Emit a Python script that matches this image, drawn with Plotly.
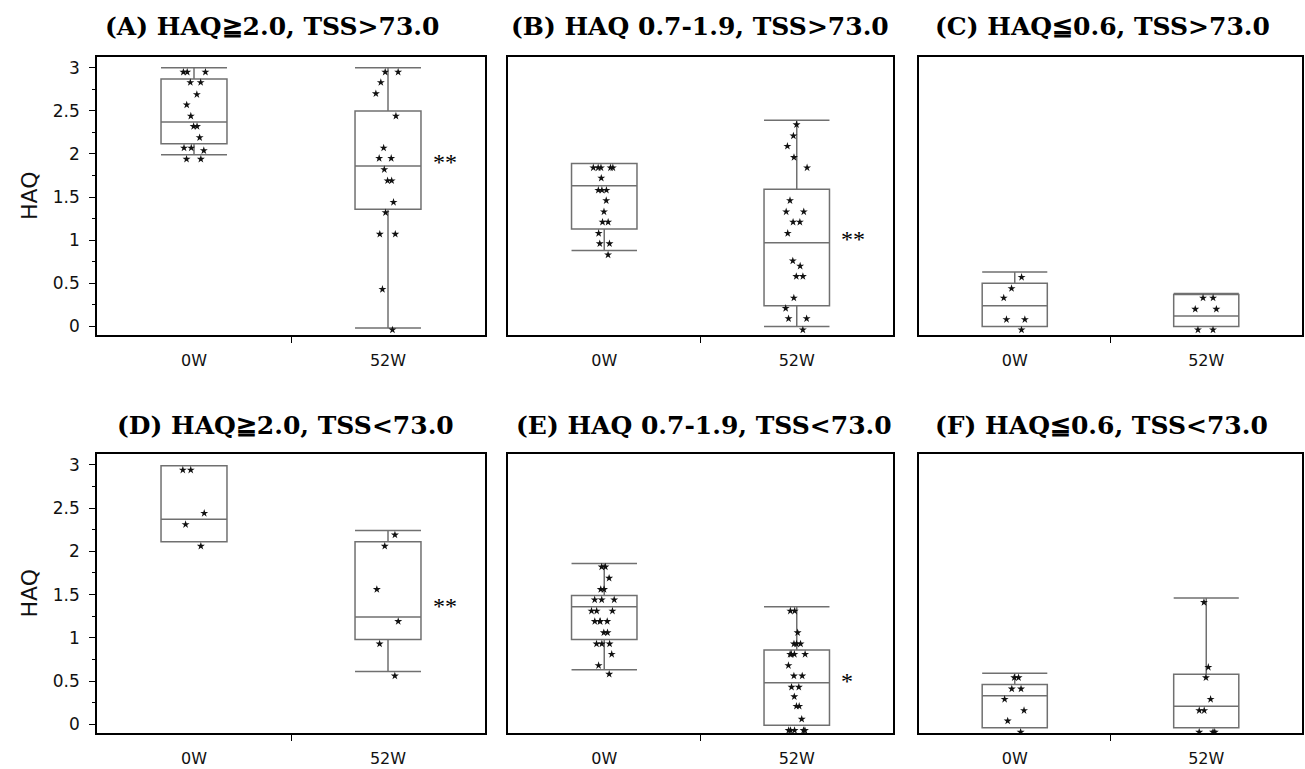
import plotly.graph_objects as go

# ---------------- data ----------------
time_labels = ["0W", "52W"]
panel_titles = [
    "(A) HAQ≧2.0, TSS>73.0",
    "(B) HAQ 0.7-1.9, TSS>73.0",
    "(C) HAQ≦0.6, TSS>73.0",
    "(D) HAQ≧2.0, TSS<73.0",
    "(E) HAQ 0.7-1.9, TSS<73.0",
    "(F) HAQ≦0.6, TSS<73.0",
]
significance = ["**", "**", "", "**", "*", ""]
sig_y = [1.91, 1.01, None, 1.37, 0.50, None]

# individual HAQ points
A_0W = [2.95, 2.95, 2.95, 2.83, 2.83, 2.69, 2.57, 2.44, 2.32, 2.32, 2.19, 2.07, 2.07, 2.04, 1.94, 1.94]
A_52W = [2.95, 2.95, 2.83, 2.70, 2.44, 2.07, 1.95, 1.95, 1.82, 1.69, 1.69, 1.44, 1.32, 1.07, 1.07, 0.43, -0.04]
B_0W = [1.84, 1.84, 1.84, 1.84, 1.84, 1.72, 1.58, 1.58, 1.58, 1.46, 1.33, 1.21, 1.21, 1.08, 0.96, 0.96, 0.83]
B_52W = [2.34, 2.21, 2.09, 1.96, 1.84, 1.46, 1.33, 1.33, 1.21, 1.21, 1.08, 0.76, 0.70, 0.58, 0.58, 0.33, 0.21, 0.09, 0.09, -0.04]
C_0W = [0.57, 0.44, 0.33, 0.08, 0.08, -0.04]
C_52W = [0.33, 0.33, 0.20, 0.20, -0.04, -0.04]
D_0W = [2.94, 2.94, 2.44, 2.31, 2.06]
D_52W = [2.19, 2.06, 1.56, 1.19, 0.93, 0.56]
E_0W = [1.82, 1.82, 1.69, 1.56, 1.56, 1.44, 1.44, 1.44, 1.31, 1.31, 1.31, 1.19, 1.19, 1.19, 1.19,
        1.06, 1.06, 0.93, 0.93, 0.93, 0.81, 0.68, 0.58]
E_52W = [1.31, 1.31, 1.06, 0.93, 0.93, 0.93, 0.81, 0.81, 0.81, 0.81, 0.68, 0.56, 0.56, 0.43, 0.43,
         0.32, 0.21, 0.21, 0.06, -0.07, -0.07, -0.07, -0.07, -0.07]
F_0W = [0.54, 0.54, 0.41, 0.41, 0.29, 0.16, 0.04, -0.09]
F_52W = [1.41, 0.66, 0.54, 0.29, 0.16, 0.16, -0.09, -0.09, -0.09]

# box statistics per panel: [0W, 52W]
A_q1, A_med, A_q3, A_lo, A_hi = [2.12, 1.36], [2.37, 1.86], [2.87, 2.50], [1.99, -0.02], [3.00, 3.00]
B_q1, B_med, B_q3, B_lo, B_hi = [1.13, 0.24], [1.63, 0.97], [1.89, 1.59], [0.88, 0.00], [1.89, 2.39]
C_q1, C_med, C_q3, C_lo, C_hi = [0.00, 0.00], [0.24, 0.12], [0.50, 0.37], [0.00, 0.00], [0.63, 0.38]
D_q1, D_med, D_q3, D_lo, D_hi = [2.11, 0.98], [2.37, 1.24], [2.99, 2.11], [2.11, 0.61], [2.99, 2.24]
E_q1, E_med, E_q3, E_lo, E_hi = [0.98, -0.01], [1.36, 0.48], [1.49, 0.86], [0.63, -0.01], [1.86, 1.36]
F_q1, F_med, F_q3, F_lo, F_hi = [-0.04, -0.04], [0.33, 0.21], [0.46, 0.58], [-0.04, -0.04], [0.59, 1.46]

y_ticks = [0, 0.5, 1, 1.5, 2, 2.5, 3]

# ---------------- build ----------------
points = [(A_0W, A_52W), (B_0W, B_52W), (C_0W, C_52W), (D_0W, D_52W), (E_0W, E_52W), (F_0W, F_52W)]
stats = [
    (A_q1, A_med, A_q3, A_lo, A_hi),
    (B_q1, B_med, B_q3, B_lo, B_hi),
    (C_q1, C_med, C_q3, C_lo, C_hi),
    (D_q1, D_med, D_q3, D_lo, D_hi),
    (E_q1, E_med, E_q3, E_lo, E_hi),
    (F_q1, F_med, F_q3, F_lo, F_hi),
]

W, H = 1305, 769
col_px = [(97, 485), (508, 893), (919, 1302)]
row_px = [(57, 335), (454, 733)]
title_cx = [272, 700, 1102, 285, 704, 1101]
title_cy = [27, 425]

BOX_COLOR = "#707070"
fig = go.Figure()
layout = dict(
    width=W, height=H,
    margin=dict(l=0, r=0, t=0, b=0),
    paper_bgcolor="white", plot_bgcolor="white",
    showlegend=False,
    boxmode="overlay",
    annotations=[],
)

for i in range(6):
    r, c = divmod(i, 3)
    n = i + 1
    xa = "x" if n == 1 else f"x{n}"
    ya = "y" if n == 1 else f"y{n}"
    q1, med, q3, lo, hi = stats[i]
    fig.add_trace(go.Box(
        x=[0, 1], q1=q1, median=med, q3=q3, lowerfence=lo, upperfence=hi,
        width=0.34, whiskerwidth=1, boxpoints=False,
        line=dict(color=BOX_COLOR, width=1.5), fillcolor="rgba(0,0,0,0)",
        xaxis=xa, yaxis=ya, hoverinfo="y",
    ))
    for k in range(2):
        pts = points[i][k]
        fig.add_trace(go.Box(
            x=[k] * len(pts), y=pts, width=0.34,
            boxpoints="all", jitter=0.4, pointpos=0,
            line=dict(width=0, color="rgba(0,0,0,0)"), fillcolor="rgba(0,0,0,0)",
            marker=dict(symbol="star", size=6, color="#111111"),
            xaxis=xa, yaxis=ya, hoverinfo="y",
        ))

    x0, x1 = col_px[c]
    y0, y1 = row_px[r]
    xkey = "xaxis" if n == 1 else f"xaxis{n}"
    ykey = "yaxis" if n == 1 else f"yaxis{n}"
    layout[xkey] = dict(
        domain=[x0 / W, x1 / W], anchor=ya, range=[-0.5, 1.5],
        tickmode="array", tickvals=[0, 1], ticktext=time_labels, ticks="",
        ticklabelstandoff=10,
        minor=dict(tickmode="array", tickvals=[0.5], ticks="outside", ticklen=6,
                   tickcolor="black", tickwidth=1.2),
        showline=True, mirror=True, linecolor="black", linewidth=1.6,
        showgrid=False, zeroline=False,
        tickfont=dict(family="DejaVu Sans", size=16, color="#111111"),
        fixedrange=True,
    )
    yax = dict(
        domain=[1 - y1 / H, 1 - y0 / H], anchor=xa, range=[-0.1, 3.125],
        showline=True, mirror=True, linecolor="black", linewidth=1.6,
        showgrid=False, zeroline=False, fixedrange=True,
    )
    if c == 0:
        yax.update(
            tickmode="array", tickvals=y_ticks, ticks="outside", ticklen=6,
            tickcolor="black", tickwidth=1.2, ticklabelstandoff=6,
            tickfont=dict(family="DejaVu Sans", size=17, color="#111111"),
            minor=dict(dtick=0.25, tick0=0, ticks="outside", ticklen=3,
                       tickcolor="black", tickwidth=1),
        )
    else:
        yax.update(showticklabels=False, ticks="")
    layout[ykey] = yax

    layout["annotations"].append(dict(
        text=f"<b>{panel_titles[i]}</b>", xref="paper", yref="paper",
        x=title_cx[i] / W, y=1 - title_cy[r] / H, xanchor="center", yanchor="middle",
        showarrow=False, font=dict(family="DejaVu Serif", size=25, color="#000000"),
    ))
    if significance[i]:
        layout["annotations"].append(dict(
            text=significance[i], xref=xa, yref=ya, x=1.22, y=sig_y[i],
            xanchor="left", yanchor="middle", showarrow=False,
            font=dict(family="Liberation Serif", size=24, color="#000000"),
        ))
    if c == 0:
        layout["annotations"].append(dict(
            text="HAQ", xref="paper", yref="paper",
            x=29 / W, y=1 - ((y0 + y1) / 2) / H, xanchor="center", yanchor="middle",
            textangle=-90, showarrow=False,
            font=dict(family="DejaVu Sans", size=22, color="#111111"),
        ))

fig.update_layout(**layout)
fig.write_html(
    "out.html",
    config={"displayModeBar": False},
    post_script="document.body.style.margin='0';",
)
